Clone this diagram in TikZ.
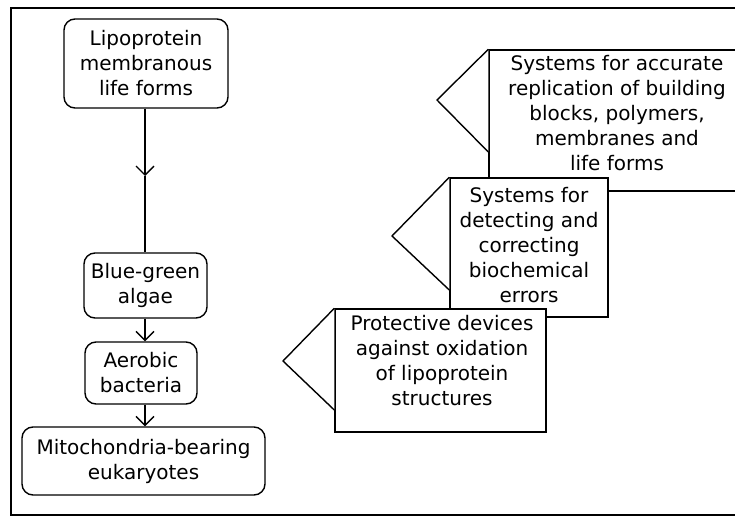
\documentclass[tikz,border=0pt]{standalone}
\usepackage{fontspec}
\setmainfont{DejaVu Sans}
\usetikzlibrary{arrows.meta}
\tikzset{
  lbl/.style={font=\fontsize{20}{25}\selectfont, align=center, inner sep=0pt},
  stage/.style={draw, line width=1.4pt, rounded corners=11pt, fill=white,
                lbl, inner sep=0pt},
  panel/.style={draw, line width=1.4pt, fill=white, inner sep=0pt},
  pointer/.style={draw, line width=1.4pt, fill=white, line join=miter},
  flow/.style={line width=1.4pt, -{Straight Barb[length=9pt,width=18pt]}},
  plain/.style={line width=1.4pt}
}
\begin{document}
\begin{tikzpicture}[x=1pt, y=-1pt]
  \useasboundingbox (0,0) rectangle (735,518);
  \clip (0,0) rectangle (735,518);

  % outer frame, open to the right
  \draw[plain] (760,8) -- (11,8) -- (11,515) -- (760,515);

  % evolutionary sequence on the left
  \node[stage, minimum width=164pt, minimum height=89pt] (L1) at (146,63.5)
    {Lipoprotein\\membranous\\life forms};
  \node[stage, minimum width=123pt, minimum height=65pt] (L2) at (145.5,285.5)
    {Blue-green\\algae};
  \node[stage, minimum width=112pt, minimum height=62pt] (L3) at (141,373)
    {Aerobic\\bacteria};
  \node[stage, minimum width=243pt, minimum height=68pt] (L4) at (143.5,461)
    {Mitochondria-bearing\\eukaryotes};

  \coordinate (mid) at (145,176);
  \draw[flow] (L1.south -| mid) -- (mid);
  \draw[plain] (mid) -- (L2.north -| mid);
  \draw[flow] (L2.south -| mid) -- (L3.north -| mid);
  \draw[flow] (L3.south -| mid) -- (L4.north -| mid);

  % stacked panels with pointers on the right
  \node[panel, minimum width=256pt, minimum height=141pt] (R1) at (617,120.5) {};
  \coordinate (R1tip) at (437,100);
  \draw[pointer] (R1.north west) -- (R1tip) -- (R1.west |- 0,152);
  \node[lbl] (R1t) at (617,113)
    {Systems for accurate\\replication of building\\blocks, polymers,\\membranes and\\life forms};

  \node[panel, minimum width=158pt, minimum height=139pt] (R2) at (529,247.5) {};
  \coordinate (R2tip) at (392,236);
  \draw[pointer] (R2.north west) -- (R2tip) -- (R2.west |- 0,290);
  \node[lbl] (R2t) at (529,245)
    {Systems for\\detecting and\\correcting\\biochemical\\errors};

  \node[panel, minimum width=211pt, minimum height=123pt] (R3) at (440.5,370.5) {};
  \coordinate (R3tip) at (283,361);
  \draw[pointer] (R3.north west) -- (R3tip) -- (R3.west |- 0,410);
  \node[lbl] (R3t) at (442,361)
    {Protective devices\\against oxidation\\of lipoprotein\\structures};
\end{tikzpicture}
\end{document}
